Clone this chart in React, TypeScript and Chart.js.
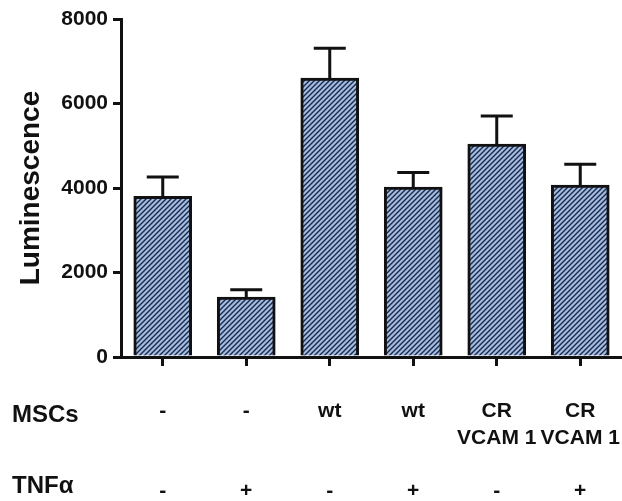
import React, { useEffect, useRef } from "react";
import { Chart, registerables } from "chart.js";

Chart.register(...registerables);

const mscLine1 = ["-", "-", "wt", "wt", "CR", "CR"];
const mscLine2 = ["", "", "", "", "VCAM 1", "VCAM 1"];
const tnfRow = ["-", "+", "-", "+", "-", "+"];
const luminescence = [3800, 1420, 6600, 4020, 5040, 4070];
const sem = [460, 170, 710, 345, 665, 490];
const yTicks = [0, 2000, 4000, 6000, 8000];
const rowTitles = ["MSCs", "TNF\u03b1"];
const yTitle = "Luminescence";

const FONT = "'Liberation Sans', Arial, Helvetica, sans-serif";

function makeHatch(): CanvasPattern | string {
  const n = 5;
  const c = document.createElement("canvas");
  c.width = n;
  c.height = n;
  const g = c.getContext("2d");
  if (!g) return "#9ab3dc";
  g.fillStyle = "#a3bce4";
  g.fillRect(0, 0, n, n);
  g.strokeStyle = "#1c2944";
  g.lineWidth = 1.4;
  g.beginPath();
  g.moveTo(-1, n + 1);
  g.lineTo(n + 1, -1);
  g.moveTo(-1, 1);
  g.lineTo(1, -1);
  g.moveTo(n - 1, n + 1);
  g.lineTo(n + 1, n - 1);
  g.stroke();
  return g.createPattern(c, "repeat") || "#9ab3dc";
}

const errorBarsPlugin = {
  id: "errorBars",
  afterDatasetsDraw(chart: any) {
    const ctx = chart.ctx;
    const meta = chart.getDatasetMeta(0);
    const y = chart.scales.y;
    ctx.save();
    ctx.strokeStyle = "#111";
    ctx.lineWidth = 3;
    ctx.lineCap = "butt";
    meta.data.forEach((el: any, i: number) => {
      const top = y.getPixelForValue(luminescence[i] + sem[i]);
      ctx.beginPath();
      ctx.moveTo(el.x, el.y);
      ctx.lineTo(el.x, top);
      ctx.moveTo(el.x - 16, top);
      ctx.lineTo(el.x + 16, top);
      ctx.stroke();
    });
    ctx.restore();
  },
};

const rowTitlePlugin = {
  id: "rowTitles",
  afterDraw(chart: any) {
    const ctx = chart.ctx;
    ctx.save();
    ctx.fillStyle = "#111";
    ctx.font = `bold 24px ${FONT}`;
    ctx.textAlign = "left";
    ctx.textBaseline = "middle";
    ctx.fillText(rowTitles[0], 12, 415);
    ctx.fillText(rowTitles[1], 12, 486);
    ctx.restore();
  },
};

export default function App() {
  const ref = useRef<HTMLCanvasElement | null>(null);

  useEffect(() => {
    if (!ref.current) return;
    const labels = mscLine1.map((a, i) => [a, mscLine2[i], "", tnfRow[i]]);
    const chart = new Chart(ref.current, {
      type: "bar",
      data: {
        labels,
        datasets: [
          {
            data: luminescence,
            backgroundColor: makeHatch() as any,
            borderColor: "#111",
            borderWidth: 3,
            borderSkipped: "start",
            barThickness: 58,
          },
        ],
      },
      options: {
        responsive: false,
        animation: false,
        devicePixelRatio: 1,
        layout: { padding: { top: 19, right: 0, left: 0, bottom: 0 } },
        plugins: {
          legend: { display: false },
          tooltip: { enabled: false },
        },
        scales: {
          x: {
            offset: true,
            grid: {
              offset: false,
              drawOnChartArea: false,
              drawTicks: true,
              tickLength: 9,
              color: "#111",
              lineWidth: 3,
            },
            border: { display: true, color: "#111", width: 3 },
            ticks: {
              color: "#111",
              font: { family: FONT, size: 21, weight: "bold", lineHeight: 1.27 },
              padding: 32,
              maxRotation: 0,
              autoSkip: false,
            },
            afterFit(scale: any) {
              scale.height = 144;
              scale.paddingLeft = 0;
              scale.paddingRight = 0;
            },
          },
          y: {
            min: yTicks[0],
            max: yTicks[yTicks.length - 1],
            afterBuildTicks(scale: any) {
              scale.ticks = yTicks.map((v) => ({ value: v }));
            },
            grid: {
              drawOnChartArea: false,
              drawTicks: true,
              tickLength: 8,
              color: "#111",
              lineWidth: 3,
            },
            border: { display: true, color: "#111", width: 3 },
            ticks: {
              color: "#111",
              font: { family: FONT, size: 21, weight: "bold" },
              padding: 5,
              callback: (v: any) => String(v),
            },
            title: {
              display: true,
              text: yTitle,
              color: "#111",
              font: { family: FONT, size: 28, weight: "bold" },
              padding: { top: 14, bottom: 0 },
            },
            afterFit(scale: any) {
              scale.width = 121;
            },
          },
        },
      },
      plugins: [errorBarsPlugin, rowTitlePlugin],
    });
    return () => chart.destroy();
  }, []);

  return (
    <div style={{ position: "absolute", left: 0, top: 0, width: 622, height: 501, background: "#fff" }}>
      <canvas ref={ref} width={622} height={501} style={{ display: "block" }} />
    </div>
  );
}
